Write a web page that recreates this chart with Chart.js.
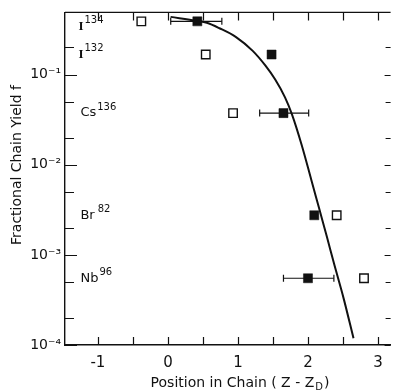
<!DOCTYPE html>
<html><head><meta charset="utf-8">
<style>html,body{margin:0;padding:0;background:#fff}#wrap{width:398px;height:392px;position:relative}</style>
<script src="https://cdn.jsdelivr.net/npm/chart.js@4/dist/chart.umd.min.js"></script>
</head><body><div id="wrap"><canvas id="c" width="398" height="392"></canvas></div>
<script>
// ---- data ----
const nuclides = ['I', 'I', 'Cs', 'Br', 'Nb'];
const massNumbers = ['134', '132', '136', '82', '96'];
const yieldValues = [0.39, 0.167, 0.0374, 0.00275, 0.00055];
const filledX = [0.42, 1.48, 1.65, 2.09, 2.00];
const openX = [-0.38, 0.54, 0.93, 2.41, 2.80];
const errLow = [0.04, null, 1.31, null, 1.65];
const errHigh = [0.77, null, 2.01, null, 2.37];
const curveX = [0.038, 0.415, 0.555, 0.736, 0.973, 1.211, 1.393, 1.532, 1.672, 1.770, 1.909, 2.049, 2.161, 2.273, 2.370, 2.510, 2.650];
const curveY = [0.437, 0.395, 0.376, 0.327, 0.2607, 0.1832, 0.1255, 0.0882, 0.0560, 0.0365, 0.0167, 0.00674, 0.00324, 0.00156, 0.00081, 0.000327, 0.000119];
const xTickValues = [-1, -0.5, 0, 0.5, 1, 1.5, 2, 2.5, 3];
const xTickLabels = ['-1', '', '0', '', '1', '', '2', '', '3'];
const yTickValues = [1e-4, 2e-4, 5e-4, 1e-3, 2e-3, 5e-3, 1e-2, 2e-2, 5e-2, 1e-1, 2e-1];
const yTickLabels = ['10\u207B\u2074', '', '', '10\u207B\u00B3', '', '', '10\u207B\u00B2', '', '', '10\u207B\u00B9', ''];
const xTitleMain = 'Position in Chain ( Z - Z';
const xTitleSub = 'D';
const yTitle = 'Fractional Chain Yield f';
const labelX = -1.25;

const BLACK = '#111';
const FONT = "'DejaVu Sans', sans-serif";

const datasets = [];
datasets.push({
  type: 'line', label: 'curve',
  data: curveX.map((x, i) => ({x, y: curveY[i]})),
  borderColor: BLACK, borderWidth: 2, pointRadius: 0,
  cubicInterpolationMode: 'monotone', fill: false, order: 3
});
errLow.forEach((lo, i) => {
  if (lo === null) return;
  datasets.push({
    type: 'line', label: 'err' + i,
    data: [{x: lo, y: yieldValues[i]}, {x: errHigh[i], y: yieldValues[i]}],
    borderColor: BLACK, borderWidth: 1.2,
    pointStyle: 'line', pointRotation: 90, pointRadius: 3.5,
    pointBorderColor: BLACK, pointBorderWidth: 1.2, order: 2
  });
});
datasets.push({
  type: 'scatter', label: 'filled',
  data: filledX.map((x, i) => ({x, y: yieldValues[i]})),
  pointStyle: 'rect', pointRadius: 6.4, backgroundColor: BLACK, borderColor: BLACK, borderWidth: 0.5, order: 1
});
datasets.push({
  type: 'scatter', label: 'open',
  data: openX.map((x, i) => ({x, y: yieldValues[i]})),
  pointStyle: 'rect', pointRadius: 6.0, backgroundColor: '#fff', borderColor: BLACK, borderWidth: 1.4, order: 1
});

const framePlugin = {
  id: 'frame',
  afterDraw(chart) {
    const ctx = chart.ctx, a = chart.chartArea;
    const xs = chart.scales.x, ys = chart.scales.y;
    ctx.save();
    ctx.strokeStyle = BLACK; ctx.lineWidth = 1.4;
    // top border
    ctx.beginPath(); ctx.moveTo(a.left, a.top); ctx.lineTo(a.right, a.top); ctx.stroke();
    // inward ticks
    ctx.lineWidth = 1.2;
    ctx.beginPath();
    xs.ticks.forEach(t => {
      const px = Math.round(xs.getPixelForValue(t.value)) + 0.5;
      ctx.moveTo(px, a.bottom); ctx.lineTo(px, a.bottom - 8);
      ctx.moveTo(px, a.top); ctx.lineTo(px, a.top + 8);
    });
    ys.ticks.forEach((t, i) => {
      const py = Math.round(ys.getPixelForValue(t.value)) + 0.5;
      const dec = yTickLabels[i] !== '';
      ctx.moveTo(a.left, py); ctx.lineTo(a.left + (dec ? 12 : 9), py);
      ctx.moveTo(a.right, py); ctx.lineTo(a.right - (dec ? 6 : 5), py);
    });
    ctx.stroke();
    // nuclide labels
    ctx.fillStyle = BLACK; ctx.textBaseline = 'middle'; ctx.textAlign = 'left';
    nuclides.forEach((n, i) => {
      let px = xs.getPixelForValue(labelX);
      const py = Math.max(ys.getPixelForValue(yieldValues[i]), a.top + 14);
      if (n === 'I') { ctx.font = "bold 13px 'Liberation Serif', serif"; px -= 2; }
      else ctx.font = '13px ' + FONT;
      ctx.fillText(n, px, py);
      const w = ctx.measureText(n).width;
      ctx.font = '10px ' + FONT;
      ctx.fillText(massNumbers[i], px + w + (n === 'Br' ? 3 : 1), py - 6);
    });
    // x title with subscript
    ctx.font = '14px ' + FONT;
    const w1 = ctx.measureText(xTitleMain).width;
    ctx.font = '10px ' + FONT;
    const w2 = ctx.measureText(xTitleSub).width;
    ctx.font = '14px ' + FONT;
    const w3 = ctx.measureText(')').width;
    let tx = 240 - (w1 + w2 + w3 + 2) / 2;
    const ty = 383;
    ctx.fillText(xTitleMain, tx, ty);
    ctx.font = '10px ' + FONT;
    ctx.fillText(xTitleSub, tx + w1 + 1, ty + 4);
    ctx.font = '14px ' + FONT;
    ctx.fillText(')', tx + w1 + w2 + 2, ty);
    // y title
    ctx.save();
    ctx.translate(17, 165); ctx.rotate(-Math.PI / 2);
    ctx.textAlign = 'center'; ctx.font = '14px ' + FONT;
    ctx.fillText(yTitle, 0, 0);
    ctx.restore();
    ctx.restore();
  }
};

new Chart(document.getElementById('c'), {
  data: {datasets},
  options: {
    responsive: false, animation: false, devicePixelRatio: 1,
    layout: {padding: {top: 8, right: 0, left: 0, bottom: 0}},
    plugins: {legend: {display: false}, tooltip: {enabled: false}},
    scales: {
      x: {
        type: 'linear', min: -1.47, max: 3.18,
        grid: {display: false, drawTicks: false},
        border: {display: true, color: BLACK, width: 1.4},
        afterBuildTicks: s => { s.ticks = xTickValues.map(v => ({value: v})); },
        afterFit: s => { s.height = 47; },
        ticks: {
          autoSkip: false, maxRotation: 0, padding: 9, color: BLACK,
          font: {family: FONT, size: 15},
          callback: (v, i) => xTickLabels[i]
        }
      },
      y: {
        type: 'logarithmic', min: 1e-4, max: 0.49,
        grid: {display: false, drawTicks: false},
        border: {display: true, color: BLACK, width: 1.4},
        afterBuildTicks: s => { s.ticks = yTickValues.map(v => ({value: v})); },
        afterFit: s => { s.width = 65; },
        ticks: {
          autoSkip: false, padding: 4, color: BLACK,
          font: {family: FONT, size: 14},
          callback: (v, i) => yTickLabels[i]
        }
      }
    }
  },
  plugins: [framePlugin]
});
</script>
</body></html>
